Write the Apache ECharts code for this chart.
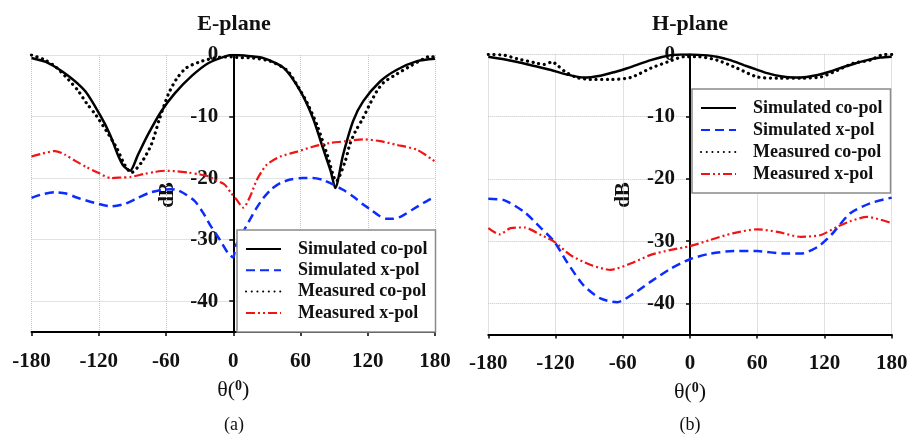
<!DOCTYPE html>
<html><head><meta charset="utf-8">
<script src="https://cdn.jsdelivr.net/npm/echarts@6/dist/echarts.min.js"></script>
<style>html,body{margin:0;padding:0;background:#fff}#c{width:910px;height:435px}</style>
</head><body><div id="c"></div><script>
// ---- Data (angles in degrees, levels in dB) ----
const xTicks = [-180, -120, -60, 0, 60, 120, 180];
const seriesNames = ['Simulated co-pol', 'Simulated x-pol', 'Measured co-pol', 'Measured x-pol'];
const panelTitles = ['E-plane', 'H-plane'];
const panelLabels = ['(a)', '(b)'];
const yAxisTitle = 'dB';

// E-plane
const eSimCoDeg = [-180,-165,-147,-132,-119,-110,-103,-98,-92,-85,-76,-64,-52,-37,-22,-5,0,10,27,45,60,71,80,87,91,98,107,116,131,146,164,180];
const eSimCoVal = [-0.5,-1.3,-3.4,-5.9,-9.7,-12.9,-16.2,-18.0,-18.8,-16.2,-12.9,-9.1,-6.2,-3.4,-1.3,-0.1,0,-0.1,-0.5,-2.1,-5.9,-10.2,-15.1,-18.9,-21.6,-16.2,-10.7,-7.5,-4.3,-2.4,-1.0,-0.6];
const eSimXDeg = [-180,-170,-159,-149,-139,-124,-109,-97,-85,-75,-64,-56,-49,-42,-34,-27,-20,-12,-5,0,2,8,15,21,27,34,42,52,62,71,80,89,98,107,116,124,131,137,143,150,160,170,180];
const eSimXVal = [-23.2,-22.6,-22.3,-22.5,-23.2,-24.0,-24.6,-24.2,-23.2,-22.4,-21.9,-21.8,-22.0,-22.7,-23.8,-25.6,-27.8,-30.0,-32.1,-32.9,-31.1,-29.0,-26.7,-24.8,-23.2,-21.8,-20.8,-20.2,-20.0,-20.0,-20.3,-21.0,-21.9,-23.0,-24.3,-25.3,-26.2,-26.6,-26.6,-26.2,-25.1,-24.0,-23.0];
const eMeaCoDeg = [-180,-168,-158,-147,-138,-131,-122,-113,-104,-97,-91,-82,-73,-66,-58,-51,-42,-28,-14,0,3,18,33,48,58,66,75,84,92,100,104,109,115,121,128,134,143,158,170,176,180];
const eMeaCoVal = [0,-0.8,-2.0,-4.0,-5.9,-7.8,-9.9,-12.4,-15.1,-17.8,-19.1,-17.5,-14.5,-10.5,-6.4,-4.0,-2.1,-1.0,-0.4,-0.3,-0.4,-0.5,-1.0,-2.5,-5.2,-7.8,-11.5,-16.3,-20.5,-17.2,-14.5,-12.4,-10.5,-8.3,-5.9,-4.5,-3.4,-1.8,-0.6,-0.2,-0.4];
const eMeaXDeg = [-180,-170,-159,-150,-141,-131,-121,-109,-100,-91,-79,-70,-61,-50,-40,-30,-22,-16,-8,-2,3,9,15,21,30,42,57,71,86,101,116,131,146,164,180];
const eMeaXVal = [-16.5,-16.0,-15.6,-16.2,-17.2,-18.2,-19.1,-20.0,-19.9,-19.8,-19.3,-19.0,-18.8,-18.9,-19.1,-19.4,-19.7,-20.3,-21.0,-22.4,-23.5,-24.8,-23.0,-20.3,-17.8,-16.5,-15.7,-14.9,-14.3,-14.0,-13.7,-14.0,-14.6,-15.4,-17.3];

// H-plane
const hSimCoDeg = [-180,-165,-154,-140,-124,-110,-95,-80,-67,-56,-45,-35,-25,-17,-8,0,12,24,36,48,59,69,81,93,104,114,126,137,148,158,170,180];
const hSimCoVal = [-0.35,-0.8,-1.2,-1.8,-2.5,-3.2,-3.7,-3.4,-2.8,-2.2,-1.5,-0.9,-0.4,-0.1,0,0,-0.1,-0.35,-0.9,-1.7,-2.4,-3.0,-3.5,-3.7,-3.6,-3.3,-2.7,-2.0,-1.4,-0.9,-0.5,-0.35];
const hSimXDeg = [-180,-166,-148,-133,-121,-110,-95,-80,-65,-50,-35,-17,0,18,39,60,84,99,114,126,143,161,180];
const hSimXVal = [-23.2,-23.4,-25.3,-27.9,-30.1,-33.3,-37.1,-39.2,-39.8,-38.4,-36.5,-34.4,-32.9,-32.0,-31.6,-31.6,-32.0,-32.0,-30.9,-29.0,-25.5,-23.9,-23.0];
const hMeaCoDeg = [-180,-166,-154,-139,-130,-123,-118,-112,-101,-89,-71,-53,-35,-20,-5,7,24,42,60,78,99,117,132,146,161,173,180];
const hMeaCoVal = [0,-0.1,-0.7,-1.3,-1.6,-1.2,-1.8,-2.7,-3.7,-4.0,-4.0,-3.7,-2.2,-1.2,-0.35,-0.35,-0.9,-2.2,-3.6,-3.8,-3.8,-3.6,-2.5,-1.4,-0.9,0,0];
const hMeaXDeg = [-180,-170,-160,-148,-133,-121,-107,-89,-71,-53,-35,-17,0,18,39,60,78,99,117,131,143,158,180];
const hMeaXVal = [-27.9,-28.9,-27.9,-27.8,-29.0,-30.1,-32.2,-33.8,-34.6,-33.6,-32.2,-31.4,-30.8,-29.8,-28.7,-28.1,-28.5,-29.3,-29.0,-27.7,-26.8,-26.1,-27.1];

// ---- Chart ----
const FONT = 'Liberation Serif';
const X_MIN = -180, X_MAX = 180;
const styles = [
  {color: '#000000', width: 2.5, type: 'solid'},
  {color: '#0a2cff', width: 2.5, type: [9, 5]},
  {color: '#000000', width: 3.2, type: [0.1, 5.6], cap: 'round'},
  {color: '#f01414', width: 2.2, type: [9, 3, 2, 3, 2, 3]}
];
const panels = [
  [[eSimCoDeg, eSimCoVal], [eSimXDeg, eSimXVal], [eMeaCoDeg, eMeaCoVal], [eMeaXDeg, eMeaXVal]],
  [[hSimCoDeg, hSimCoVal], [hSimXDeg, hSimXVal], [hMeaCoDeg, hMeaCoVal], [hMeaXDeg, hMeaXVal]]
];
const grids = [
  {left: 31.5, top: 55, width: 403.5, height: 277, containLabel: false, outerBoundsMode: 'none'},
  {left: 488.3, top: 54.5, width: 403.4, height: 280, containLabel: false, outerBoundsMode: 'none'}
];
const centers = [234, 690];

const series = [];
panels.forEach((p, gi) => {
  p.forEach((pair, si) => {
    const deg = pair[0], val = pair[1];
    series.push({
      type: 'line', name: seriesNames[si], xAxisIndex: gi, yAxisIndex: gi,
      data: deg.map((d, i) => [d, val[i]]),
      symbol: 'none', smooth: 0.25, silent: true,
      lineStyle: Object.assign({}, styles[si]),
      itemStyle: {color: styles[si].color},
      z: 2 + si
    });
  });
});

const xAxes = grids.map((g, i) => ({
  type: 'value', gridIndex: i, min: X_MIN, max: X_MAX, interval: 60,
  axisLine: {onZero: false, lineStyle: {color: '#000', width: 2}},
  axisTick: {show: true, length: 4, lineStyle: {color: '#000', width: 1.5}},
  axisLabel: {color: '#111', fontFamily: FONT, fontWeight: 'bold', fontSize: 21, margin: 19,
              formatter: v => String(v)},
  splitLine: {show: true, lineStyle: {color: '#c4c4c4', type: 'dotted', width: 1}},
  name: '{t|θ(}{s|0}{t|)}', nameLocation: 'middle', nameGap: 47,
  nameTextStyle: {rich: {
    t: {fontFamily: FONT, fontSize: 22, color: '#111'},
    s: {fontFamily: FONT, fontSize: 14, fontWeight: 'bold', color: '#111', verticalAlign: 'top'}
  }}
}));
// y axis drawn through θ = 0 (offset derived from the x range)
const yAxes = grids.map((g, i) => ({
  type: 'value', gridIndex: i, min: -45, max: 0, splitNumber: 5,
  position: 'left', offset: -g.width * (0 - X_MIN) / (X_MAX - X_MIN),
  axisLine: {onZero: false, lineStyle: {color: '#000', width: 2}},
  axisTick: {show: true, length: 4, lineStyle: {color: '#000', width: 1.5}},
  axisLabel: {color: '#111', fontFamily: FONT, fontWeight: 'bold', fontSize: 21, margin: 15,
              formatter: v => (Math.round(v) % 10 === 0 ? String(Math.round(v)) : '')},
  splitLine: {show: true, lineStyle: {color: '#c4c4c4', type: 'dotted', width: 1}}
}));

const legendPos = [{left: 237, top: 230, gap: 3.3}, {left: 692, top: 89, gap: 4}];
const legends = legendPos.map(lp => ({
  orient: 'vertical', left: lp.left, top: lp.top, itemGap: lp.gap,
  itemWidth: 35, itemHeight: 14, selectedMode: false,
  padding: [10, 8, 10, 8], backgroundColor: '#fff',
  borderColor: '#8a8a8a', borderWidth: 1.5, borderRadius: 0,
  itemStyle: {opacity: 0},
  data: seriesNames,
  textStyle: {fontFamily: FONT, fontWeight: 'bold', fontSize: 18, color: '#111', padding: [0, 0, 0, 12]}
}));

const graphics = [];
centers.forEach((cx, i) => {
  graphics.push({type: 'text', x: cx, y: 24, style: {text: panelTitles[i], textAlign: 'center', textVerticalAlign: 'middle',
    font: 'bold 22px "Liberation Serif"', fill: '#111'}});
  graphics.push({type: 'text', x: cx, y: 425, style: {text: panelLabels[i], textAlign: 'center', textVerticalAlign: 'middle',
    font: '18px "Liberation Serif"', fill: '#111'}});
  graphics.push({type: 'text', x: cx - 66, y: 195, rotation: Math.PI / 2, style: {text: yAxisTitle, textAlign: 'center', textVerticalAlign: 'middle',
    font: 'bold 21px "Liberation Serif"', fill: '#111'}});
});

const chart = echarts.init(document.getElementById('c'), null, {renderer: 'canvas'});
chart.setOption({
  animation: false,
  backgroundColor: '#fff',
  grid: grids,
  xAxis: xAxes,
  yAxis: yAxes,
  legend: legends,
  series: series,
  graphic: graphics
});
</script></body></html>
